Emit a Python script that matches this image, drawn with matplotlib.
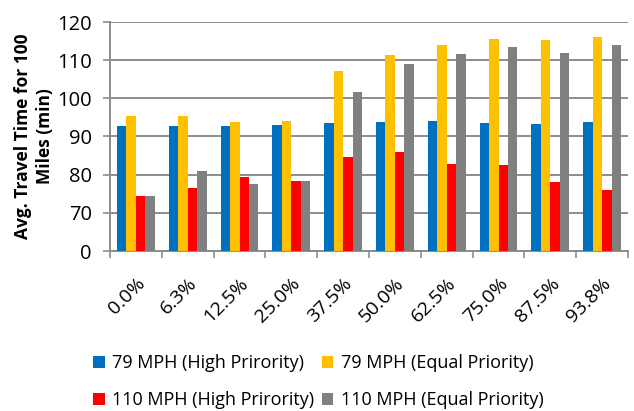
import numpy as np
import matplotlib
matplotlib.use("Agg")
import matplotlib.pyplot as plt
from matplotlib.ticker import FixedLocator

plt.rcParams["font.family"] = ["Open Sans", "DejaVu Sans"]

# Share of high-priority traffic (category axis)
categories = ["0.0%", "6.3%", "12.5%", "25.0%", "37.5%",
              "50.0%", "62.5%", "75.0%", "87.5%", "93.8%"]

# Average travel time for 100 miles (min)
mph79_high = [92.8, 92.8, 92.8, 93.0, 93.6, 93.8, 94.1, 93.5, 93.4, 93.8]
mph79_equal = [95.4, 95.4, 93.8, 94.0, 107.1, 111.3, 114.0, 115.5, 115.2, 116.1]
mph110_high = [74.4, 76.4, 79.4, 78.3, 84.6, 85.9, 82.7, 82.5, 78.1, 76.0]
mph110_equal = [74.4, 80.9, 77.6, 78.3, 101.7, 109.1, 111.5, 113.4, 112.0, 114.0]

series = [
    ("79 MPH (High Prirority)", mph79_high, "#0070C0"),
    ("79 MPH (Equal Priority)", mph79_equal, "#FFC000"),
    ("110 MPH (High Prirority)", mph110_high, "#FF0000"),
    ("110 MPH (Equal Priority)", mph110_equal, "#808080"),
]

# Axis is cut: the bottom of the plot stands for 60 but is labelled 0
y_floor = 60
y_ticks = [60, 70, 80, 90, 100, 110, 120]
y_ticklabels = ["0", "70", "80", "90", "100", "110", "120"]

fig = plt.figure(figsize=(6.34, 4.11), dpi=100)
ax = fig.add_axes([110 / 634, 1 - 251 / 411, 518 / 634, 229 / 411])

x = np.arange(len(categories))
bw = 0.183
bars = []
for i, (label, vals, color) in enumerate(series):
    b = ax.bar(x + (i - 1.5) * bw, np.array(vals) - y_floor, bw,
               bottom=y_floor, color=color, label=label, zorder=3)
    bars.append(b)

ax.set_xlim(-0.5, len(categories) - 0.5)
ax.set_ylim(60, 120)
ax.set_yticks(y_ticks)
ax.set_yticklabels(y_ticklabels, fontsize=14.5)
ax.yaxis.grid(True, color="#8c8c8c", linewidth=1.4, zorder=0)

ax.set_xticks(x)
ax.set_xticklabels(categories, rotation=45, ha="right", rotation_mode="anchor",
                   fontsize=14)
ax.tick_params(axis="x", length=0, pad=17)
ax.xaxis.set_minor_locator(FixedLocator(np.arange(-0.5, len(categories), 1.0)))
ax.tick_params(axis="x", which="minor", length=5, color="#8c8c8c", width=1.2)
ax.tick_params(axis="y", length=5, color="#8c8c8c", width=1.2, pad=8)

for side in ["top", "right"]:
    ax.spines[side].set_visible(False)
for side in ["left", "bottom"]:
    ax.spines[side].set_color("#8c8c8c")
    ax.spines[side].set_linewidth(1.4)

ax.set_ylabel("Avg. Travel Time for 100\nMiles (min)", fontsize=12.5,
              fontweight="bold", labelpad=2, linespacing=1.3)

# legend laid out as two rows: 79 MPH on top, 110 MPH below
order = [0, 2, 1, 3]
fig.legend([bars[i] for i in order], [series[i][0] for i in order],
           loc="upper left", bbox_to_anchor=(77 / 634, 0.178), ncol=2,
           frameon=False, fontsize=13, handlelength=0.65, handleheight=0.65,
           handletextpad=0.4, columnspacing=0.4, labelspacing=1.05)

fig.savefig("out.png", dpi=100)
